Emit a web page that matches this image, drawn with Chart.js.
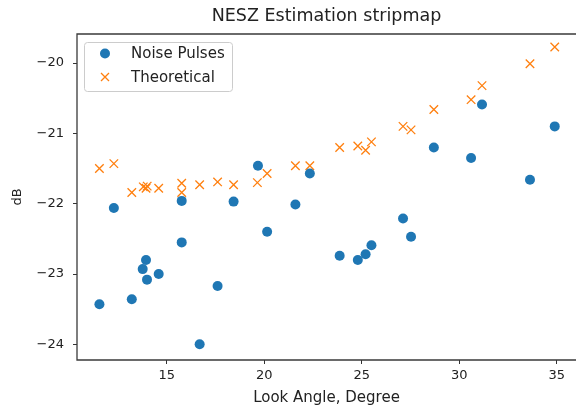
<!DOCTYPE html>
<html>
<head>
<meta charset="utf-8">
<script src="https://cdn.jsdelivr.net/npm/chart.js@4"></script>
<style>
  html, body { margin: 0; padding: 0; background: #fff; overflow: hidden; }
  #wrap { width: 576px; height: 407px; }
</style>
</head>
<body>
<div id="wrap"><canvas id="c" width="576" height="407"></canvas></div>
<script>
const lookAngles = [11.55, 12.29, 13.21, 13.77, 13.94, 13.99, 14.59, 15.77, 15.77, 16.69, 17.61, 18.43, 19.68, 20.15, 21.60, 22.34, 23.87, 24.80, 25.20, 25.50, 27.12, 27.53, 28.70, 30.61, 31.17, 33.63, 34.90];
const noisePulses = [-23.43, -22.06, -23.36, -22.93, -22.80, -23.08, -23.00, -21.96, -22.55, -24.00, -23.17, -21.97, -21.46, -22.40, -22.01, -21.57, -22.74, -22.80, -22.72, -22.59, -22.21, -22.47, -21.20, -21.35, -20.59, -21.66, -20.90];
const theoreticalAngles = [11.55, 12.29, 13.21, 13.80, 13.94, 14.00, 14.59, 15.77, 15.77, 16.69, 17.61, 18.43, 19.65, 20.15, 21.60, 22.34, 23.87, 24.80, 25.20, 25.50, 27.12, 27.53, 28.70, 30.61, 31.17, 33.63, 34.90];
const theoretical = [-21.50, -21.43, -21.84, -21.76, -21.78, -21.75, -21.78, -21.71, -21.84, -21.73, -21.69, -21.73, -21.70, -21.57, -21.46, -21.46, -21.20, -21.18, -21.24, -21.12, -20.90, -20.95, -20.66, -20.52, -20.32, -20.01, -19.77];
const xTicks = [15, 20, 25, 30, 35];
const yTicks = [-24, -23, -22, -21, -20];
const seriesLabels = ['Noise Pulses', 'Theoretical'];
const titleText = 'NESZ Estimation stripmap';
const xLabel = 'Look Angle, Degree';
const yLabel = 'dB';

const FONT = "'DejaVu Sans', sans-serif";
const BLUE = '#1f77b4';
const ORANGE = '#ff7f0e';

const frame = {
  id: 'frame',
  afterDraw(chart) {
    const a = chart.chartArea, ctx = chart.ctx;
    const W = chart.width;
    ctx.save();
    // keep the right edge open, as in the reference (its right spine is cut off)
    ctx.fillStyle = '#fff';
    ctx.fillRect(W - 4, a.top + 1.5, 4, a.bottom - a.top - 3);
    ctx.strokeStyle = '#3a3a3a';
    ctx.lineWidth = 1.3;
    ctx.beginPath();
    ctx.moveTo(W + 5, a.top); ctx.lineTo(a.left, a.top);
    ctx.lineTo(a.left, a.bottom); ctx.lineTo(W + 5, a.bottom);
    ctx.stroke();
    ctx.restore();
  }
};

const innerLegend = {
  id: 'innerLegend',
  afterDraw(chart) {
    const a = chart.chartArea, ctx = chart.ctx;
    const x0 = a.left + 7, y0 = a.top + 8, w = 148, h = 49;
    ctx.save();
    ctx.fillStyle = 'rgba(255,255,255,0.85)';
    ctx.strokeStyle = '#cccccc';
    ctx.lineWidth = 1;
    ctx.beginPath();
    ctx.roundRect(x0 + 0.5, y0 + 0.5, w, h, 3);
    ctx.fill();
    ctx.stroke();
    ctx.font = '15px ' + FONT;
    ctx.textBaseline = 'middle';
    chart.data.datasets.forEach((ds, i) => {
      const cy = y0 + 11.5 + i * 23.5;
      const mx = x0 + 21;
      if (i === 0) {
        ctx.fillStyle = BLUE;
        ctx.beginPath();
        ctx.arc(mx, cy, 5, 0, Math.PI * 2);
        ctx.fill();
      } else {
        ctx.strokeStyle = ORANGE;
        ctx.lineWidth = 1.3;
        ctx.beginPath();
        ctx.moveTo(mx - 4, cy - 4); ctx.lineTo(mx + 4, cy + 4);
        ctx.moveTo(mx + 4, cy - 4); ctx.lineTo(mx - 4, cy + 4);
        ctx.stroke();
      }
      ctx.fillStyle = '#222';
      ctx.fillText(ds.label, x0 + 47, cy + 1);
    });
    ctx.restore();
  }
};

new Chart(document.getElementById('c'), {
  type: 'scatter',
  data: {
    datasets: [
      {
        label: seriesLabels[0],
        data: lookAngles.map((x, i) => ({ x, y: noisePulses[i] })),
        pointStyle: 'circle',
        pointRadius: 5,
        pointHoverRadius: 5,
        backgroundColor: BLUE,
        borderColor: BLUE,
        borderWidth: 0
      },
      {
        label: seriesLabels[1],
        data: theoreticalAngles.map((x, i) => ({ x, y: theoretical[i] })),
        pointStyle: 'crossRot',
        pointRadius: 6,
        pointHoverRadius: 6,
        backgroundColor: ORANGE,
        borderColor: ORANGE,
        borderWidth: 1.3
      }
    ]
  },
  options: {
    responsive: false,
    animation: false,
    devicePixelRatio: 1,
    layout: { autoPadding: false, padding: { left: 0, right: 0, top: 0, bottom: 0 } },
    plugins: {
      legend: { display: false },
      tooltip: { enabled: false },
      title: {
        display: true,
        fullSize: false,
        text: titleText,
        color: '#222',
        font: { family: FONT, size: 17.5, weight: 'normal' },
        padding: { top: 6, bottom: 7 }
      }
    },
    scales: {
      x: {
        type: 'linear',
        min: 10.40,
        max: 35.99,
        afterBuildTicks(s) { s.ticks = xTicks.map(v => ({ value: v })); },
        afterFit(s) { s.height = 47; s.paddingLeft = 0; s.paddingRight = 0; },
        grid: { display: true, drawOnChartArea: false, drawTicks: true, tickLength: 4, color: '#333', tickWidth: 1 },
        border: { display: false },
        ticks: { color: '#222', font: { family: FONT, size: 13 }, padding: 4, maxRotation: 0,
          callback: v => String(v).replace('-', '\u2212') },
        title: { display: true, text: xLabel, color: '#222', font: { family: FONT, size: 15 }, padding: { top: 0, bottom: 0 } }
      },
      y: {
        type: 'linear',
        min: -24.223,
        max: -19.586,
        afterBuildTicks(s) { s.ticks = yTicks.map(v => ({ value: v })); },
        afterFit(s) { s.width = 77; s.paddingTop = 0; s.paddingBottom = 0; },
        grid: { display: true, drawOnChartArea: false, drawTicks: true, tickLength: 4, color: '#333', tickWidth: 1 },
        border: { display: false },
        ticks: { color: '#222', font: { family: FONT, size: 13 }, padding: 9,
          callback: v => String(v).replace('-', '\u2212') },
        title: { display: true, text: yLabel, color: '#222', font: { family: FONT, size: 13 }, padding: { top: 10, bottom: 0 } }
      }
    }
  },
  plugins: [frame, innerLegend]
});
</script>
</body>
</html>
